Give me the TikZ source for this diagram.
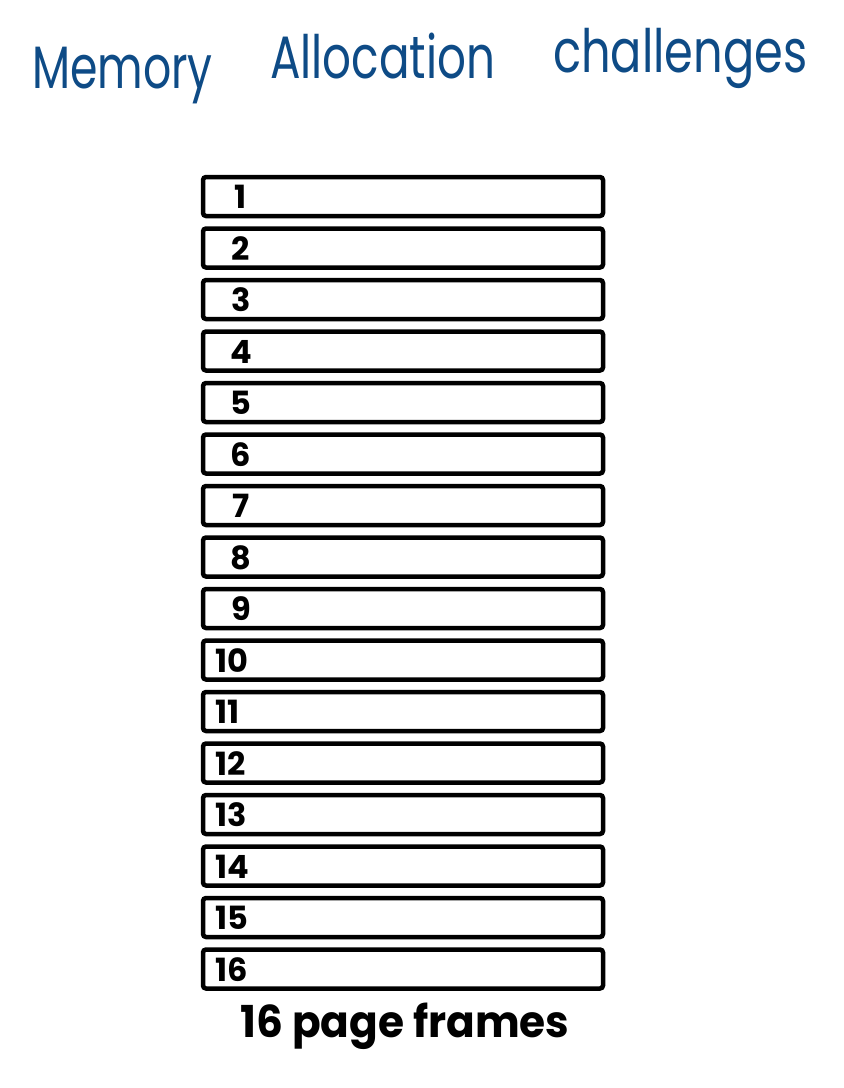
\documentclass[tikz,border=0pt]{standalone}
\usepackage{fontspec}
\setmainfont{Poppins}
\newfontfamily\numfont{Poppins}[UprightFont=* Bold]
\newfontfamily\handfont{Poppins}
\definecolor{penblue}{HTML}{0E4B86}
\tikzset{
  frame/.style={draw=black, line width=4.5pt, rounded corners=3pt, minimum width=400pt, minimum height=39pt, inner sep=0pt, fill=white},
  num/.style={font=\numfont\fontsize{32}{32}\selectfont, inner sep=0pt, anchor=base},
  title/.style={text=penblue, font=\handfont\fontsize{52}{52}\selectfont, inner sep=0pt, anchor=base west},
}
\begin{document}
\begin{tikzpicture}[x=1pt,y=-1pt]
\useasboundingbox (0,0) rectangle (844,1088);
\node[title] (t1) at (32,88) {\scalebox{0.85}[1.15]{Memory}};
\node[title] (t2) at (270,78) {\scalebox{0.87}[1.15]{Allocation}};
\node[title] (t3) at (553,72) {\scalebox{0.89}[1.15]{challenges}};
\foreach \i in {1,...,16}{
  \pgfmathsetmacro{\yy}{196.5+(\i-1)*51.5}
  \node[frame] (f\i) at (403,\yy) {};
  \ifnum\i<10
    \node[num] (n\i) at (241,\yy+12) {\i};
  \else
    \node[num, anchor=base west] (n\i) at (215,\yy+12) {\i};
  \fi
}
\node[font=\numfont\fontsize{44}{44}\selectfont, inner sep=0pt, anchor=base] (cap) at (405,1037) {\scalebox{0.96}[1]{16 page frames}};
\end{tikzpicture}
\end{document}
